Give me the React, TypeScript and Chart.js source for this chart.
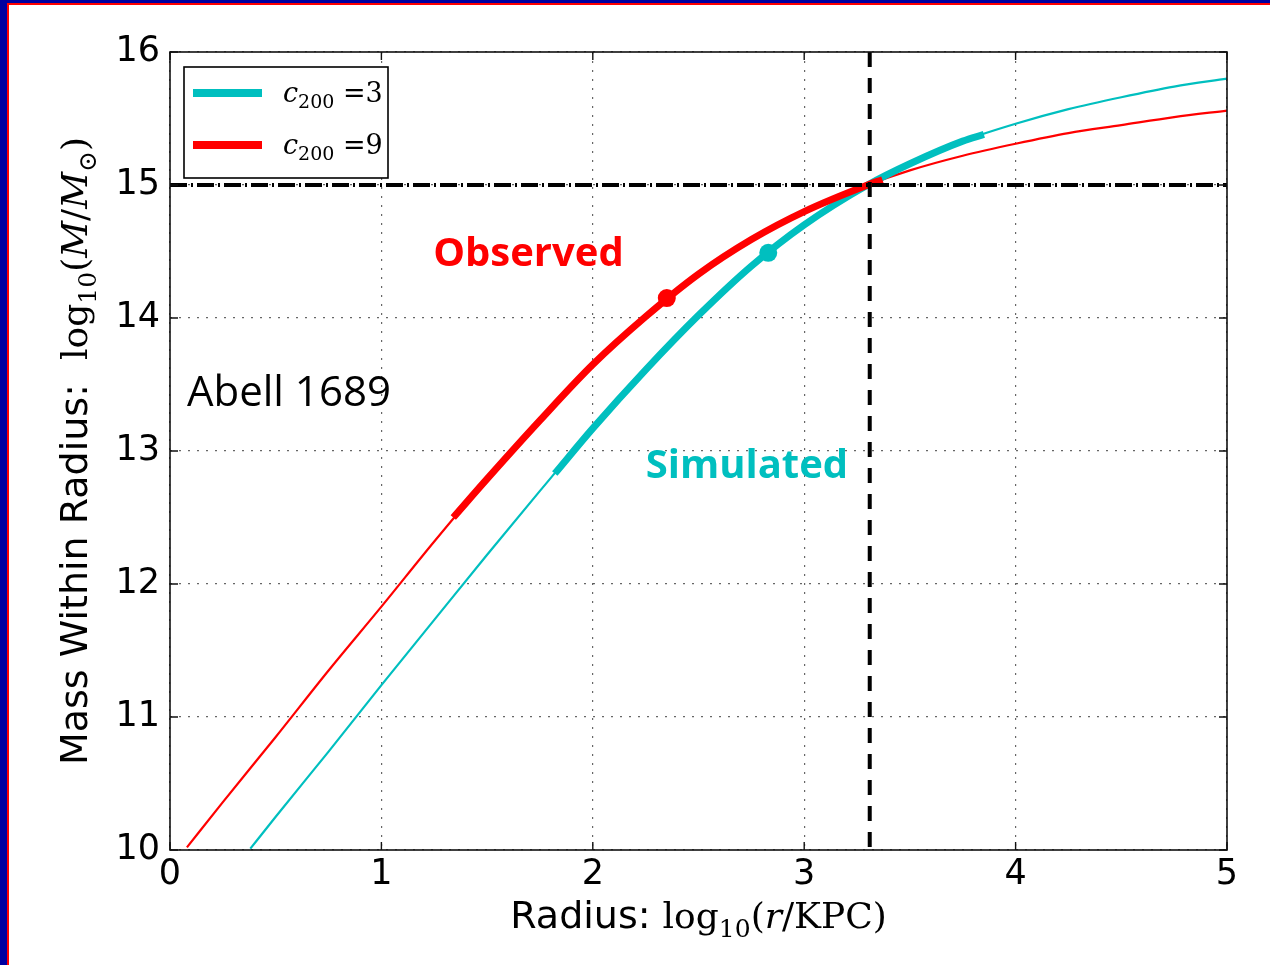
import React, { useEffect, useRef } from 'react';
import { Chart, registerables } from 'chart.js';

Chart.register(...registerables);

// ---------- data ----------
const xTicks = [0, 1, 2, 3, 4, 5];
const yTicks = [10, 11, 12, 13, 14, 15, 16];

// c200 = 3 (cyan) : log10(r/kpc) vs log10(M/Msun)
const cyanR = [0.38, 0.5, 0.75, 1.0, 1.25, 1.5, 1.75, 2.0, 2.25, 2.5, 2.75, 3.0, 3.3, 3.5, 3.75, 4.0, 4.25, 4.5, 4.75, 5.0];
const cyanM = [10.01, 10.25, 10.74, 11.24, 11.73, 12.22, 12.7, 13.17, 13.61, 14.02, 14.39, 14.7, 15.0, 15.16, 15.33, 15.46, 15.57, 15.66, 15.74, 15.8];

// c200 = 9 (red)
const redR = [0.08, 0.25, 0.5, 0.75, 1.0, 1.25, 1.5, 1.75, 2.0, 2.25, 2.5, 2.75, 3.0, 3.3, 3.5, 3.75, 4.0, 4.25, 4.5, 4.75, 5.0];
const redM = [10.02, 10.36, 10.85, 11.35, 11.83, 12.32, 12.79, 13.23, 13.65, 14.01, 14.33, 14.59, 14.8, 15.0, 15.11, 15.22, 15.31, 15.39, 15.45, 15.51, 15.56];

// highlighted (thick) ranges
const simulatedR = [1.82, 2.0, 2.25, 2.5, 2.75, 3.0, 3.3, 3.5, 3.75, 3.85];
const simulatedM = [12.83, 13.17, 13.61, 14.02, 14.39, 14.7, 15.0, 15.16, 15.33, 15.38];
const observedR = [1.34, 1.5, 1.75, 2.0, 2.25, 2.5, 2.75, 3.0, 3.3, 3.37];
const observedM = [12.5, 12.79, 13.23, 13.65, 14.01, 14.33, 14.59, 14.8, 15.0, 15.04];

// markers
const redDotR = [2.35];
const redDotM = [14.15];
const cyanDotR = [2.83];
const cyanDotM = [14.49];

// reference lines
const refMass = [15];
const refRadius = [3.31];

// legend
const legendC = [3, 9];

// ---------- styles ----------
const CYAN = '#00BFBF';
const RED = '#FF0000';
const SANS = '"DejaVu Sans"';
const SERIF = '"DejaVu Serif"';

const zip = (xs: number[], ys: number[]) => xs.map((x, i) => ({ x, y: ys[i] }));

type Part = { t: string; font: string; dy?: number };

function richWidth(ctx: CanvasRenderingContext2D, parts: Part[]) {
  let w = 0;
  for (const p of parts) {
    ctx.font = p.font;
    w += ctx.measureText(p.t).width;
  }
  return w;
}

function drawRich(ctx: CanvasRenderingContext2D, parts: Part[], x: number, y: number, align: 'left' | 'center') {
  let cx = align === 'center' ? x - richWidth(ctx, parts) / 2 : x;
  ctx.textAlign = 'left';
  ctx.textBaseline = 'alphabetic';
  for (const p of parts) {
    ctx.font = p.font;
    ctx.fillText(p.t, cx, y + (p.dy || 0));
    cx += ctx.measureText(p.t).width;
  }
}

const decorPlugin = {
  id: 'decor',
  afterDraw(chart: any) {
    const ctx: CanvasRenderingContext2D = chart.ctx;
    const a = chart.chartArea;
    const xs = chart.scales.x;
    const ys = chart.scales.y;
    ctx.save();

    // frame
    ctx.strokeStyle = '#111';
    ctx.lineWidth = 1.6;
    ctx.setLineDash([]);
    ctx.strokeRect(a.left, a.top, a.right - a.left, a.bottom - a.top);

    // inward tick marks
    ctx.lineWidth = 1.4;
    ctx.beginPath();
    for (const v of xTicks) {
      const px = xs.getPixelForValue(v);
      ctx.moveTo(px, a.bottom);
      ctx.lineTo(px, a.bottom - 8);
      ctx.moveTo(px, a.top);
      ctx.lineTo(px, a.top + 8);
    }
    for (const v of yTicks) {
      const py = ys.getPixelForValue(v);
      ctx.moveTo(a.left, py);
      ctx.lineTo(a.left + 8, py);
      ctx.moveTo(a.right, py);
      ctx.lineTo(a.right - 8, py);
    }
    ctx.stroke();

    // legend box
    const bx = a.left + 14;
    const by = a.top + 15;
    const bw = 204;
    const bh = 111;
    ctx.fillStyle = '#fff';
    ctx.fillRect(bx, by, bw, bh);
    ctx.strokeStyle = '#000';
    ctx.lineWidth = 1.6;
    ctx.strokeRect(bx, by, bw, bh);
    const legendColors = [CYAN, RED];
    legendC.forEach((c, i) => {
      const ly = by + 26 + i * 52;
      ctx.strokeStyle = legendColors[i];
      ctx.lineWidth = 8;
      ctx.beginPath();
      ctx.moveTo(bx + 9, ly);
      ctx.lineTo(bx + 78, ly);
      ctx.stroke();
      ctx.fillStyle = '#000';
      drawRich(
        ctx,
        [
          { t: 'c', font: `italic 27px ${SERIF}` },
          { t: '200', font: `19px ${SERIF}`, dy: 6 },
          { t: ' =', font: `27px ${SERIF}` },
          { t: String(c), font: `27px ${SERIF}` },
        ],
        bx + 99,
        ly + 9,
        'left'
      );
    });

    // annotations (anchored in data coordinates)
    ctx.fillStyle = RED;
    ctx.font = `bold 40px "Open Sans"`;
    ctx.textAlign = 'left';
    ctx.textBaseline = 'alphabetic';
    ctx.fillText('Observed', xs.getPixelForValue(1.245), ys.getPixelForValue(14.39));
    ctx.fillStyle = CYAN;
    ctx.fillText('Simulated', xs.getPixelForValue(2.25), ys.getPixelForValue(12.8));
    ctx.fillStyle = '#000';
    ctx.font = `42px "Open Sans"`;
    ctx.fillText('Abell 1689', xs.getPixelForValue(0.08), ys.getPixelForValue(13.34));

    // axis titles
    ctx.fillStyle = '#000';
    const xTitle: Part[] = [
      { t: 'Radius: ', font: `38px ${SANS}` },
      { t: 'log', font: `36px ${SERIF}` },
      { t: '10', font: `25px ${SERIF}`, dy: 9 },
      { t: '(', font: `36px ${SERIF}` },
      { t: 'r', font: `italic 36px ${SERIF}` },
      { t: '/KPC)', font: `36px ${SERIF}` },
    ];
    drawRich(ctx, xTitle, (a.left + a.right) / 2, 928, 'center');

    const yTitle: Part[] = [
      { t: 'Mass Within Radius:  ', font: `38px ${SANS}` },
      { t: 'log', font: `36px ${SERIF}` },
      { t: '10', font: `25px ${SERIF}`, dy: 9 },
      { t: '(', font: `36px ${SERIF}` },
      { t: 'M', font: `italic 36px ${SERIF}` },
      { t: '/', font: `36px ${SERIF}` },
      { t: 'M', font: `italic 36px ${SERIF}` },
      { t: '\u2299', font: `25px ${SERIF}`, dy: 9 },
      { t: ')', font: `36px ${SERIF}` },
    ];
    ctx.translate(87, (a.top + a.bottom) / 2);
    ctx.rotate(-Math.PI / 2);
    drawRich(ctx, yTitle, 0, 0, 'center');

    ctx.restore();
  },
};

export default function App() {
  const ref = useRef<HTMLCanvasElement | null>(null);

  useEffect(() => {
    if (!ref.current) return;
    const gridColor = 'rgba(0,0,0,0.6)';
    const chart = new Chart(ref.current, {
      type: 'line',
      data: {
        datasets: [
          {
            label: 'vref',
            data: [
              { x: refRadius[0], y: 16 },
              { x: refRadius[0], y: 10 },
            ],
            borderColor: '#000',
            borderWidth: 4,
            borderDash: [15, 11],
            pointRadius: 0,
            tension: 0,
            cubicInterpolationMode: 'default',
            order: 0,
          },
          {
            label: 'href',
            data: [
              { x: 0, y: refMass[0] },
              { x: 5, y: refMass[0] },
            ],
            borderColor: '#000',
            borderWidth: 4,
            borderDash: [17, 4, 2, 4],
            pointRadius: 0,
            tension: 0,
            cubicInterpolationMode: 'default',
            order: 0,
          },
          {
            label: 'redDot',
            data: zip(redDotR, redDotM),
            showLine: false,
            pointRadius: 9,
            pointBackgroundColor: RED,
            pointBorderColor: RED,
            pointBorderWidth: 0,
            order: 1,
          },
          {
            label: 'observed',
            data: zip(observedR, observedM),
            borderColor: RED,
            borderWidth: 7,
            pointRadius: 0,
            order: 1,
          },
          {
            label: 'cyanDot',
            data: zip(cyanDotR, cyanDotM),
            showLine: false,
            pointRadius: 9,
            pointBackgroundColor: CYAN,
            pointBorderColor: CYAN,
            pointBorderWidth: 0,
            order: 2,
          },
          {
            label: 'simulated',
            data: zip(simulatedR, simulatedM),
            borderColor: CYAN,
            borderWidth: 7,
            pointRadius: 0,
            order: 2,
          },
          {
            label: 'c200=9',
            data: zip(redR, redM),
            borderColor: RED,
            borderWidth: 2.2,
            pointRadius: 0,
            order: 3,
          },
          {
            label: 'c200=3',
            data: zip(cyanR, cyanM),
            borderColor: CYAN,
            borderWidth: 2.2,
            pointRadius: 0,
            order: 4,
          },
        ],
      },
      options: {
        responsive: false,
        animation: false,
        events: [],
        layout: { padding: { left: 0, right: 43, top: 52, bottom: 0 } },
        elements: {
          line: { cubicInterpolationMode: 'monotone', borderCapStyle: 'butt', fill: false },
          point: { radius: 0, hoverRadius: 0 },
        },
        plugins: {
          legend: { display: false },
          tooltip: { enabled: false },
        },
        scales: {
          x: {
            type: 'linear',
            min: 0,
            max: 5,
            afterFit: (s: any) => {
              s.height = 115;
            },
            afterBuildTicks: (s: any) => {
              s.ticks = xTicks.map((v) => ({ value: v }));
            },
            ticks: {
              color: '#000',
              font: { family: 'DejaVu Sans', size: 35 },
              padding: 4,
              maxRotation: 0,
              autoSkip: false,
              callback: (v: any) => String(v),
            },
            grid: { color: gridColor, lineWidth: 1.2, drawTicks: false },
            border: { display: false, dash: [2, 7] },
          },
          y: {
            type: 'linear',
            min: 10,
            max: 16,
            afterFit: (s: any) => {
              s.width = 170;
            },
            afterBuildTicks: (s: any) => {
              s.ticks = yTicks.map((v) => ({ value: v }));
            },
            ticks: {
              color: '#000',
              font: { family: 'DejaVu Sans', size: 35 },
              padding: 10,
              autoSkip: false,
              callback: (v: any) => String(v),
            },
            grid: { color: gridColor, lineWidth: 1.2, drawTicks: false },
            border: { display: false, dash: [2, 7] },
          },
        },
      },
      plugins: [decorPlugin],
    } as any);
    return () => chart.destroy();
  }, []);

  return (
    <div
      style={{
        position: 'absolute',
        left: 0,
        top: 0,
        width: 1270,
        height: 965,
        background: '#fff',
        overflow: 'hidden',
      }}
    >
      <canvas ref={ref} width={1270} height={965} style={{ position: 'absolute', left: 0, top: 0, width: 1270, height: 965 }} />
      <div style={{ position: 'absolute', left: 0, top: 0, width: 7, height: 965, background: '#0000A0' }} />
      <div style={{ position: 'absolute', left: 0, top: 0, width: 1270, height: 3, background: '#0000A0' }} />
      <div style={{ position: 'absolute', left: 7, top: 3, width: 2, height: 962, background: '#FF0000' }} />
      <div style={{ position: 'absolute', left: 7, top: 3, width: 1263, height: 2, background: '#FF0000' }} />
    </div>
  );
}
